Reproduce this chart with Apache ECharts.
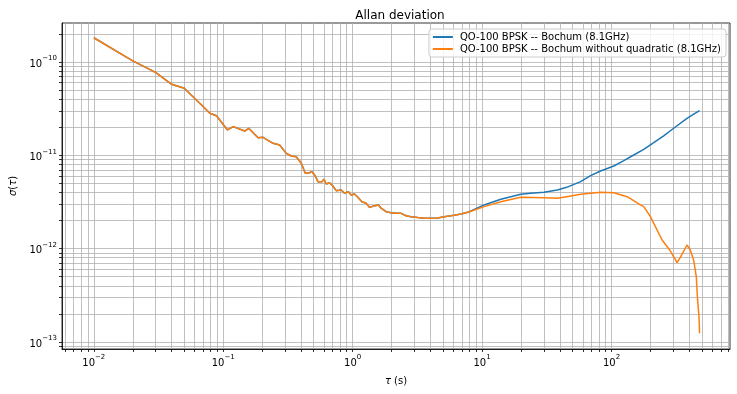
<!DOCTYPE html>
<html>
<head>
<meta charset="utf-8">
<script src="https://cdn.jsdelivr.net/npm/echarts@6/dist/echarts.min.js"></script>
<style>html,body{margin:0;padding:0;background:#fff}#c{width:737px;height:394px}</style>
</head>
<body>
<div id="c"></div>
<script>
// ---- data ----
const tauCommon = [0.01, 0.02, 0.03, 0.04, 0.05, 0.068, 0.0788, 0.0887, 0.1079, 0.1193, 0.1466, 0.1574, 0.186, 0.2032, 0.2154, 0.2427, 0.2729, 0.3073,
  0.3357, 0.3667, 0.4011, 0.4304, 0.4515, 0.4848, 0.514, 0.5393, 0.579, 0.5998, 0.6249, 0.6625, 0.7036, 0.746, 0.8155, 0.8646, 0.9281, 0.9736,
  1.0325, 1.0968, 1.1774, 1.2706, 1.3473, 1.4569, 1.5805, 1.6585, 1.8123, 1.9805, 2.164, 2.365, 2.584, 2.824, 3.18, 3.576, 4.027, 4.536, 5.1, 6.089, 6.859, 7.9];
const sigmaCommon = [1.82e-10, 1.03e-10, 7.76e-11, 5.77e-11, 5.23e-11, 3.46e-11, 2.82e-11, 2.66e-11, 1.87e-11, 2.03e-11, 1.82e-11, 1.95e-11, 1.545e-11, 1.56e-11, 1.485e-11, 1.345e-11, 1.29e-11, 1.05e-11,
  9.83e-12, 9.67e-12, 8.21e-12, 6.42e-12, 6.42e-12, 6.68e-12, 6.00e-12, 5.22e-12, 5.22e-12, 5.54e-12, 4.93e-12, 5.09e-12, 4.69e-12, 4.18e-12, 4.25e-12, 3.92e-12, 4.08e-12, 3.76e-12,
  3.85e-12, 3.55e-12, 3.18e-12, 3.06e-12, 2.77e-12, 2.86e-12, 2.94e-12, 2.71e-12, 2.49e-12, 2.43e-12, 2.39e-12, 2.39e-12, 2.25e-12, 2.20e-12, 2.15e-12, 2.115e-12, 2.115e-12, 2.13e-12, 2.20e-12, 2.28e-12, 2.35e-12, 2.47e-12];
const tauBlueTail = [10.37, 13.95, 19.89, 23.75, 30.08, 38.15, 45.0, 57.7, 68.9, 82.3, 104.2, 124.4, 148.5, 177.4, 211.8, 253, 302, 383, 428.6, 479];
const sigmaBlueTail = [2.94e-12, 3.38e-12, 3.82e-12, 3.92e-12, 4.02e-12, 4.25e-12, 4.54e-12, 5.22e-12, 6.05e-12, 6.79e-12, 7.69e-12, 8.76e-12, 1.008e-11, 1.16e-11, 1.365e-11, 1.62e-11, 1.95e-11, 2.49e-11, 2.75e-11, 3.01e-11];
const tauOrangeTail = [10.37, 13.95, 19.89, 30.08, 38.15, 45.0, 57.7, 82.3, 104.2, 132.1, 167.3, 177.4, 199.8, 245.9, 281.4, 320.9, 340.2, 383.1, 406.3, 430.8, 451.9, 462.4, 474.1, 479];
const sigmaOrangeTail = [2.82e-12, 3.18e-12, 3.55e-12, 3.52e-12, 3.46e-12, 3.60e-12, 3.82e-12, 4.02e-12, 3.98e-12, 3.60e-12, 2.94e-12, 2.82e-12, 2.20e-12, 1.238e-12, 9.67e-13, 7.07e-13, 8.08e-13, 1.094e-12, 9.67e-13, 7.56e-13, 5.01e-13, 2.82e-13, 1.87e-13, 1.24e-13];
const seriesNames = ['QO-100 BPSK -- Bochum (8.1GHz)', 'QO-100 BPSK -- Bochum without quadratic (8.1GHz)'];
const xMajorTicks = [0.01, 0.1, 1, 10, 100];
const yMajorTicks = [1e-13, 1e-12, 1e-11, 1e-10];

// ---- helpers ----
function pairs(xs, ys) { return xs.map((x, i) => [x, ys[i]]); }
function logTicks(lo, hi, dLo, dHi) {
  const out = [];
  for (let d = dLo; d <= dHi; d++) {
    for (let m = 1; m <= 9; m++) {
      const v = parseFloat((m * Math.pow(10, d)).toPrecision(6));
      if (v >= lo && v <= hi) out.push(v);
    }
  }
  return out;
}
const xMin = 0.00568, xMax = 823, yMin = 8.4e-14, yMax = 2.62e-10;
const xAllTicks = logTicks(xMin, xMax, -3, 2);
const yAllTicks = logTicks(yMin, yMax, -14, -10);

const blueData = pairs(tauCommon, sigmaCommon).concat(pairs(tauBlueTail, sigmaBlueTail));
const orangeData = pairs(tauCommon, sigmaCommon).concat(pairs(tauOrangeTail, sigmaOrangeTail));

const FONT = 'DejaVu Sans';
function expLabel(v) {
  const e = Math.round(Math.log10(v));
  return '{b|10}{s|' + String(e).replace('-', '\u2212') + '}';
}
const rich = {
  b: { fontSize: 10, fontFamily: FONT, color: '#000', lineHeight: 14, verticalAlign: 'bottom' },
  s: { fontSize: 7, fontFamily: FONT, color: '#000', lineHeight: 14, verticalAlign: 'top', padding: [0, 0, 6, 0] }
};
const nameRich = {
  i: { fontSize: 10, fontFamily: FONT, fontStyle: 'italic', color: '#000' },
  n: { fontSize: 10, fontFamily: FONT, color: '#000' }
};
const gridLine = { show: true, lineStyle: { color: '#b0b0b0', width: 0.8, type: 'solid' } };

const chart = echarts.init(document.getElementById('c'), null, { renderer: 'canvas' });
chart.setOption({
  animation: false,
  backgroundColor: '#fff',
  title: {
    text: 'Allan deviation', left: 395, top: 5, textAlign: 'center',
    textStyle: { fontSize: 12, fontWeight: 'normal', fontFamily: FONT, color: '#000' }
  },
  legend: {
    orient: 'vertical', right: 11, top: 29,
    backgroundColor: 'rgba(255,255,255,0.8)', borderColor: '#cccccc', borderWidth: 1, borderRadius: 3,
    padding: [3, 5, 3, 4], itemGap: 2, itemWidth: 20, itemHeight: 2, icon: 'rect',
    textStyle: { fontSize: 10, fontFamily: FONT, color: '#000', padding: [0, 0, 0, 2] },
    data: seriesNames
  },
  grid: { left: 60, right: 7, top: 23, bottom: 45, show: true, borderColor: '#000', borderWidth: 0.8, backgroundColor: 'transparent' },
  xAxis: {
    type: 'log', logBase: 10, min: xMin, max: xMax,
    name: '{i|τ}{n| (s)}', nameLocation: 'middle', nameGap: 27,
    nameTextStyle: { fontSize: 10, fontFamily: FONT, color: '#000', rich: nameRich },
    axisLine: { show: true, lineStyle: { color: '#000', width: 0.8 } },
    axisTick: { show: true, customValues: xAllTicks, length: 3, lineStyle: { color: '#000', width: 0.8 } },
    axisLabel: { customValues: xMajorTicks, formatter: expLabel, rich: rich, margin: 5 },
    splitLine: gridLine
  },
  yAxis: {
    type: 'log', logBase: 10, min: yMin, max: yMax,
    name: '{i|σ}{n|(}{i|τ}{n|)}', nameLocation: 'middle', nameGap: 44, nameRotate: 90,
    nameTextStyle: { fontSize: 10, fontFamily: FONT, color: '#000', rich: nameRich },
    axisLine: { show: true, lineStyle: { color: '#000', width: 0.8 } },
    axisTick: { show: true, customValues: yAllTicks, length: 3, lineStyle: { color: '#000', width: 0.8 } },
    axisLabel: { customValues: yMajorTicks, formatter: expLabel, rich: rich, margin: 5 },
    splitLine: gridLine
  },
  series: [
    { name: seriesNames[0], type: 'line', data: blueData, showSymbol: false, symbol: 'none',
      lineStyle: { color: '#1f77b4', width: 1.5 }, itemStyle: { color: '#1f77b4' }, z: 2 },
    { name: seriesNames[1], type: 'line', data: orangeData, showSymbol: false, symbol: 'none',
      lineStyle: { color: '#ff7f0e', width: 1.5 }, itemStyle: { color: '#ff7f0e' }, z: 3 }
  ]
});
</script>
</body>
</html>
